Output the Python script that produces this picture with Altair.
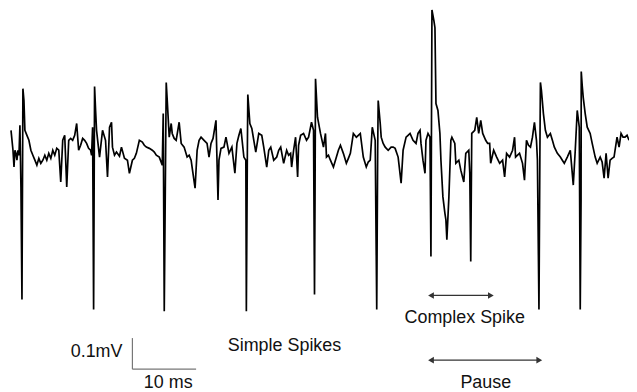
import altair as alt
import pandas as pd

t_ms = [0.16, 0.47, 0.63, 0.78, 0.94, 1.09, 1.25, 1.41, 1.56, 1.72, 1.88, 1.95, 2.03, 2.19, 2.34, 2.66, 2.97, 3.28, 3.59, 3.91,
        4.22, 4.53, 4.84, 5.16, 5.47, 5.78, 6.09, 6.41, 6.72, 7.03, 7.34, 7.66, 7.97, 8.28, 8.59, 8.91, 9.22, 9.53, 9.84, 10.16,
        10.47, 10.78, 11.09, 11.41, 11.72, 12.03, 12.34, 12.66, 12.81, 12.97, 13.13, 13.28, 13.44, 13.59, 14.06, 14.53, 15.00, 15.31, 15.63, 15.94,
        16.09, 16.41, 16.72, 17.19, 17.50, 17.97, 18.44, 18.75, 19.22, 19.53, 19.84, 20.31, 20.78, 21.09, 21.41, 21.88, 22.34, 22.66, 22.97, 23.44,
        23.91, 24.06, 24.22, 24.53, 24.69, 25.00, 25.31, 25.47, 25.78, 26.09, 26.56, 26.88, 27.34, 27.81, 28.13, 28.44, 28.59, 29.06, 29.38, 29.69,
        30.00, 30.47, 30.94, 31.25, 31.56, 31.88, 32.34, 32.66, 32.81, 33.13, 33.59, 33.91, 34.38, 34.84, 35.31, 35.63, 35.94, 36.25, 36.72, 37.03,
        37.11, 37.27, 37.34, 37.66, 37.97, 38.28, 38.59, 39.06, 39.53, 39.84, 40.31, 40.63, 40.94, 41.41, 41.88, 42.19, 42.50, 42.97, 43.44, 43.75,
        44.06, 44.22, 44.53, 44.84, 45.16, 45.31, 45.63, 46.09, 46.56, 46.88, 47.34, 47.66, 47.81, 47.89, 47.97, 48.28, 48.75, 49.22, 49.53, 49.69,
        50.00, 50.31, 50.78, 51.25, 51.56, 51.88, 52.34, 52.81, 53.13, 53.44, 53.91, 54.38, 54.69, 55.00, 55.47, 55.94, 56.25, 56.56, 56.88, 57.34,
        57.58, 57.73, 57.81, 58.13, 58.28, 58.59, 58.91, 59.38, 59.84, 60.16, 60.47, 60.94, 61.41, 61.72, 62.19, 62.50, 62.81, 63.28, 63.75, 64.06,
        64.38, 64.53, 64.84, 65.16, 65.31, 65.63, 65.94, 66.09, 66.25, 66.56, 66.72, 66.88, 67.19, 67.50, 67.66, 67.97, 68.28, 68.44, 68.59, 68.91,
        69.22, 69.38, 69.84, 70.00, 70.47, 70.78, 71.25, 71.56, 72.03, 72.19, 72.34, 72.50, 72.97, 73.28, 73.59, 73.91, 74.22, 74.69, 75.00, 75.31,
        75.47, 75.94, 76.41, 76.88, 77.34, 77.66, 77.97, 78.44, 78.91, 79.22, 79.38, 79.69, 80.00, 80.47, 80.78, 81.09, 81.41, 81.72, 82.03, 82.34,
        82.66, 82.81, 83.05, 83.20, 83.28, 83.44, 83.75, 84.06, 84.38, 84.84, 85.16, 85.47, 85.94, 86.41, 86.72, 87.03, 87.50, 87.97, 88.44, 88.75,
        89.06, 89.38, 89.53, 89.66, 89.69, 89.84, 90.00, 90.31, 90.63, 91.09, 91.41, 91.88, 92.19, 92.66, 92.97, 93.28, 93.59, 93.91, 94.22, 94.53,
        94.84, 95.31, 95.63, 95.94, 96.25, 96.56, 96.88, 97.19]

v_uv = [64, 0, -54, 0, -10, -32, 0, -16, 80, -118, -480, -160, 198, 160, 64, 48, 32, 0, -16, -32,
        -48, -26, -42, -32, -16, -32, -10, -26, 0, -16, 6, 0, -102, 32, 48, -118, 32, 38, 32, 48,
        86, 0, 16, 38, 32, 22, 6, 0, -16, 74, -512, 205, 128, 64, -22, 64, 32, -86, 74, 90,
        10, -16, -6, -19, 10, -26, -32, -74, -32, -26, -10, 32, 26, 16, 10, 6, 0, -6, -16, -22,
        -48, 118, -518, 218, 160, 42, 86, 54, 38, 32, 90, 22, 10, -22, -16, -32, -54, -122, 0, 32,
        42, 32, 22, -22, 22, 38, 96, -160, -32, 6, 10, 42, -10, 10, -74, 22, 48, 70, -22, -32,
        -518, 0, 179, 86, 70, 32, -6, 54, 48, 10, -54, 0, 10, -32, -22, 0, 10, -42, 0, -16,
        -10, -54, 0, 42, -86, 16, 48, 54, 32, 42, 90, 64, -464, -160, 230, 106, 54, 10, 54, -22,
        -16, -32, -54, -22, 0, 16, -10, -42, -26, -10, 54, 42, 48, 54, -22, -54, -38, -32, 74, 32,
        -512, 0, 160, 86, 42, 22, 10, 0, 10, 10, 6, -22, -106, 0, 42, 48, 54, 32, 22, 54,
        64, 22, -32, -74, 32, 54, 42, -342, 451, 416, 394, 150, 128, 54, -32, -150, -202, -224, -288, -150,
        32, 42, 22, -42, -32, -64, -102, -10, 0, -74, -358, 54, 64, 106, 54, 96, 54, 32, 22, 22,
        -42, 0, -22, -42, -32, -86, -10, -22, 0, 42, -22, -16, -10, -42, -96, 32, 16, 10, 42, 90,
        32, -32, -512, 0, 218, 192, 118, 64, 42, 54, 32, 10, -10, -22, -32, -42, -22, 0, -112, 0,
        128, 74, -512, -160, 253, 208, 170, 118, 74, 54, 22, -22, -42, -22, -38, -90, -10, -90, -32, -26,
        -22, 42, 10, 54, 42, 42, 48, 32]

# scale bar: 0.1 mV vertical, 10 ms horizontal
bar_t = [19.22, 19.22]
bar_t2 = [19.22, 29.22]
bar_v = [-704, -704]
bar_v2 = [-604, -704]

# annotation arrows (start, end, level)
arrow_t1 = [66.1, 66.1]
arrow_t2 = [75.5, 83.1]
arrow_v = [-467, -675]

# text labels
label_text = ["0.1mV", "10 ms", "Simple Spikes", "Complex Spike", "Pause"]
label_t = [17.66, 24.84, 43.1, 71.4, 74.7]
label_v = [-650, -749, -630, -541, -749]
label_align = ["right", "center", "center", "center", "center"]

trace = pd.DataFrame({"t": t_ms, "v": v_uv, "i": list(range(len(t_ms)))})
bars = pd.DataFrame({"t": bar_t, "t2": bar_t2, "v": bar_v, "v2": bar_v2})
arrows = pd.DataFrame({"t": arrow_t1, "t2": arrow_t2, "v": arrow_v})
heads = pd.DataFrame({
    "t": arrow_t1 + arrow_t2,
    "v": arrow_v + arrow_v,
    "shape": ["triangle-left"] * len(arrow_t1) + ["triangle-right"] * len(arrow_t2),
})
labels = pd.DataFrame({"text": label_text, "t": label_t, "v": label_v, "align": label_align})

xs = alt.Scale(domain=[-0.3125, 97.1875], nice=False, zero=False)
ys = alt.Scale(domain=[-774.4, 454.4], nice=False, zero=False)
X = alt.X("t:Q", scale=xs, axis=None)
Y = alt.Y("v:Q", scale=ys, axis=None)

line = alt.Chart(trace).mark_line(color="#000000", strokeWidth=1.7, clip=True).encode(
    x=X, y=Y, order="i:Q"
)

bar = alt.Chart(bars).mark_rule(color="#777777", strokeWidth=1.2).encode(
    x=X, x2="t2:Q", y=Y, y2="v2:Q"
)

arrow_line = alt.Chart(arrows).mark_rule(color="#333333", strokeWidth=1.3).encode(
    x=X, x2="t2:Q", y=Y
)

arrow_head = alt.Chart(heads).mark_point(filled=True, color="#333333", size=45, opacity=1).encode(
    x=X, y=Y, shape=alt.Shape("shape:N", scale=None)
)

text_left = alt.Chart(labels[labels["align"] == "right"]).mark_text(
    font="Liberation Sans", fontSize=18, color="#111111", align="right", baseline="middle"
).encode(x=X, y=Y, text="text:N")

text_center = alt.Chart(labels[labels["align"] == "center"]).mark_text(
    font="Liberation Sans", fontSize=18, color="#111111", align="center", baseline="middle"
).encode(x=X, y=Y, text="text:N")

chart = alt.layer(line, bar, arrow_line, arrow_head, text_left, text_center).properties(
    width=624, height=384, padding=0, autosize=alt.AutoSizeParams(type="none")
).configure_view(stroke=None)

chart.save("out.html", embed_options={"renderer": "svg", "actions": False})
